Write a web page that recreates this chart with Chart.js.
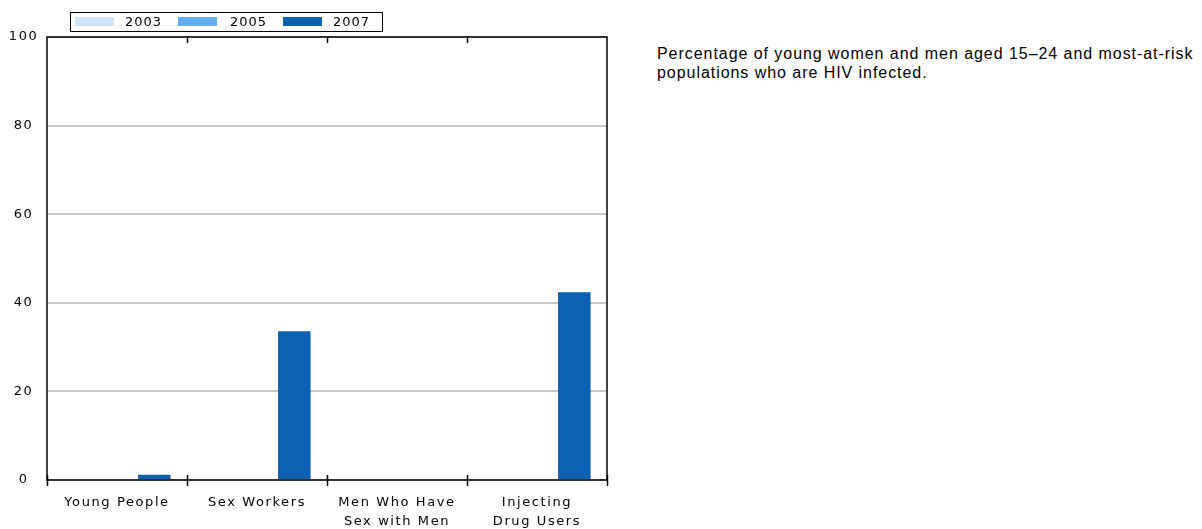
<!DOCTYPE html>
<html lang="en">
<head>
    <meta charset="UTF-8">
    <title>HIV prevalence</title>
    <script src="https://cdn.jsdelivr.net/npm/chart.js"></script>
    <style>
        body {
            margin: 0;
            background: #fff;
            overflow: hidden;
            font-family: "DejaVu Sans", Verdana, sans-serif;
        }
        #wrap {
            position: absolute;
            left: 0;
            top: 0;
            width: 620px;
            height: 529px;
        }
        #legend {
            position: absolute;
            left: 70px;
            top: 12px;
            width: 311px;
            height: 18px;
            border: 1px solid #000;
            font-size: 13px;
        }
        #legend .sw {
            position: absolute;
            top: 4px;
            width: 39px;
            height: 9px;
        }
        #legend .lb {
            position: absolute;
            top: 1px;
            line-height: 16px;
            letter-spacing: 1px;
            color: #000;
        }
        #note {
            position: absolute;
            left: 657px;
            top: 44px;
            width: 545px;
            font-family: "Liberation Sans", Arial, sans-serif;
            font-size: 16px;
            letter-spacing: 0.95px;
            line-height: 19px;
            color: #000;
        }
    </style>
</head>
<body>
    <div id="wrap"><canvas id="chart" width="620" height="529"></canvas></div>
    <div id="legend"></div>
    <div id="note">Percentage of young women and men aged 15–24 and most-at-risk populations who are HIV infected.</div>

    <script>
        const categories = [["Young People"], ["Sex Workers"], ["Men Who Have", "Sex with Men"], ["Injecting", "Drug Users"]];
        const years = ["2003", "2005", "2007"];
        const values2003 = [null, null, null, null];
        const values2005 = [null, null, null, null];
        const values2007 = [1.2, 33.6, null, 42.4];
        const yTicks = [0, 20, 40, 60, 80, 100];
        const colors = ["#cfe5fa", "#62adee", "#0c60b0"];

        // html legend with a box around it
        const legend = document.getElementById("legend");
        const swLeft = [4, 107, 212];
        const lbLeft = [54, 159, 262];
        years.forEach((y, i) => {
            legend.innerHTML += `<span class="sw" style="left:${swLeft[i]}px;background:${colors[i]}"></span>` +
                `<span class="lb" style="left:${lbLeft[i]}px">${y}</span>`;
        });

        // tick marks at the category boundaries, top and bottom, plus the frame
        const edgeTicks = {
            id: "edgeTicks",
            afterDraw(chart) {
                const ctx = chart.ctx;
                const a = chart.chartArea;
                const step = (a.right - a.left) / categories.length;
                ctx.save();
                ctx.strokeStyle = "#000";
                ctx.lineWidth = 1.5;
                ctx.beginPath();
                for (let i = 0; i <= categories.length; i++) {
                    const px = Math.round(a.left + i * step) + 0.5;
                    ctx.moveTo(px, a.bottom - 5);
                    ctx.lineTo(px, a.bottom + 6);
                    if (i > 0 && i < categories.length) {
                        ctx.moveTo(px, a.top);
                        ctx.lineTo(px, a.top + 6);
                    }
                }
                ctx.stroke();
                ctx.strokeRect(a.left, a.top, a.right - a.left, a.bottom - a.top);
                ctx.restore();
            }
        };

        const spacing = {
            id: "spacing",
            beforeDraw(chart) {
                chart.ctx.letterSpacing = "1.6px";
            }
        };

        new Chart(document.getElementById("chart"), {
            type: "bar",
            data: {
                labels: categories,
                datasets: [
                    { label: years[0], data: values2003, backgroundColor: colors[0] },
                    { label: years[1], data: values2005, backgroundColor: colors[1] },
                    { label: years[2], data: values2007, backgroundColor: colors[2] }
                ]
            },
            options: {
                responsive: false,
                animation: false,
                events: [],
                categoryPercentage: 0.8,
                barPercentage: 0.87,
                layout: { padding: { top: 37, right: 13, left: 0, bottom: 0 } },
                plugins: {
                    legend: { display: false },
                    tooltip: { enabled: false }
                },
                scales: {
                    x: {
                        grid: { display: false },
                        border: { display: false },
                        ticks: {
                            color: "#000",
                            padding: 5,
                            font: { family: "DejaVu Sans", size: 13, lineHeight: 1.45 },
                            maxRotation: 0,
                            autoSkip: false
                        },
                        afterFit(s) { s.height = 49; }
                    },
                    y: {
                        min: 0,
                        max: 100,
                        afterBuildTicks(s) { s.ticks = yTicks.map(v => ({ value: v })); },
                        grid: { color: "#c8c8c8", lineWidth: 2, drawTicks: false },
                        border: { display: false },
                        ticks: {
                            color: "#000",
                            crossAlign: "center",
                            padding: 11,
                            font: { family: "DejaVu Sans", size: 13 }
                        },
                        afterFit(s) { s.width = 47; }
                    }
                }
            },
            plugins: [spacing, edgeTicks]
        });
    </script>
</body>
</html>
